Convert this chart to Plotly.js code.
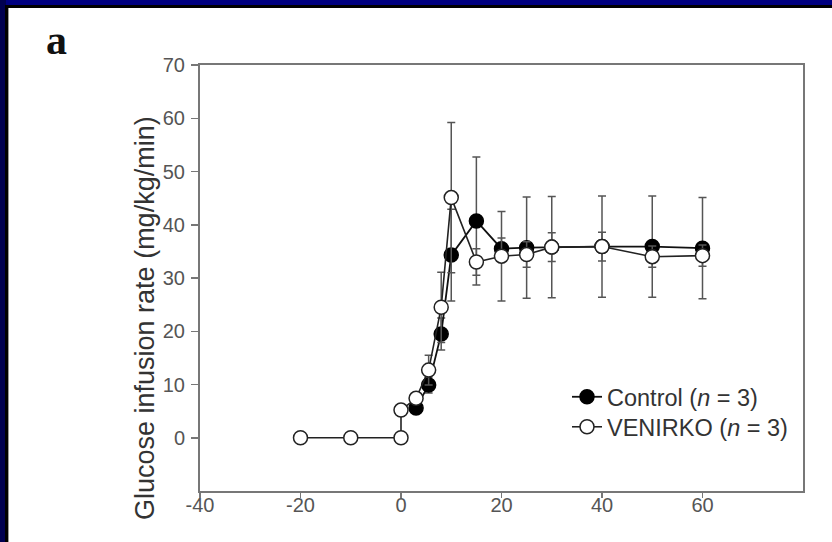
<!DOCTYPE html>
<html>
<head>
<meta charset="utf-8">
<script src="https://cdn.plot.ly/plotly-3.0.1.min.js"></script>
<style>
  html, body { margin: 0; padding: 0; background: #ffffff; }
  #wrap { position: relative; width: 832px; height: 542px; overflow: hidden; background: #ffffff; }
  #chart { position: absolute; left: 0; top: 0; width: 832px; height: 542px; }
  .strip { position: absolute; z-index: 5; }
</style>
</head>
<body>
<div id="wrap">
  <div id="chart"></div>
  <div class="strip" style="left:0;top:0;width:832px;height:5px;background:#000080;"></div>
  <div class="strip" style="left:0;top:0;width:6px;height:542px;background:#000050;"></div>
  <div class="strip" style="left:5px;top:5px;width:827px;height:3px;background:#000000;"></div>
  <div class="strip" style="left:5px;top:5px;width:3px;height:537px;background:#000000;"></div>
  <div class="strip" style="left:8px;top:8px;width:1px;height:534px;background:#9a9a9a;"></div>
</div>
<script>
// Time (min) and glucose infusion rate (mg/kg/min), mean and SEM
const timeControl = [3, 5.5, 8, 10, 15, 20, 25, 30, 40, 50, 60];
const girControl  = [5.6, 9.9, 19.5, 34.3, 40.7, 35.5, 35.7, 35.8, 35.9, 35.9, 35.6];
const semControl  = [1, 1.5, 3, 8.6, 12, 2, 9.5, 9.5, 9.5, 9.5, 9.5];

const timeVenirko = [-20, -10, 0, 0, 3, 5.5, 8, 10, 15, 20, 25, 30, 40, 50, 60];
const girVenirko  = [0, 0, 0, 5.2, 7.4, 12.7, 24.5, 45.1, 33.0, 34.1, 34.4, 35.8, 35.9, 34.0, 34.2];
const semVenirko  = [0, 0, 0, 1, 1, 2.8, 6.6, 14.1, 2.5, 8.4, 2.4, 2.7, 2.7, 2, 2];

const xTicks = [-40, -20, 0, 20, 40, 60];
const yTicks = [0, 10, 20, 30, 40, 50, 60, 70];

const seriesNames = ['Control (<i>n</i> = 3)', 'VENIRKO (<i>n</i> = 3)'];
const panelLabel = 'a';
const yTitle = 'Glucose infusion rate (mg/kg/min)';

const errStyle = { type: 'data', visible: true, color: '#555555', thickness: 1.5, width: 4 };

const traces = [
  {
    x: timeControl, y: girControl, name: seriesNames[0], legend: 'legend',
    type: 'scatter', mode: 'lines+markers',
    line: { color: '#111111', width: 1.8 },
    marker: { symbol: 'circle', size: 14, color: '#000000', line: { color: '#000000', width: 1.5 } },
    error_y: Object.assign({ array: semControl }, errStyle)
  },
  {
    x: timeVenirko, y: girVenirko, name: seriesNames[1], legend: 'legend2',
    type: 'scatter', mode: 'lines+markers',
    line: { color: '#222222', width: 1.6 },
    marker: { symbol: 'circle', size: 14, color: '#ffffff', line: { color: '#222222', width: 1.5 } },
    error_y: Object.assign({ array: semVenirko }, errStyle)
  }
];

const W = 832, H = 542;
const mL = 200, mR = 29, mT = 65, mB = 51;
const pw = W - mL - mR, ph = H - mT - mB;
const px = p => (p - mL) / pw;
const py = p => (H - mB - p) / ph;

const legendFont = { family: 'Liberation Sans, Arial, sans-serif', size: 23.5, color: '#333333' };

const layout = {
  width: W, height: H,
  margin: { l: mL, r: mR, t: mT, b: mB, pad: 0 },
  paper_bgcolor: 'rgba(0,0,0,0)',
  plot_bgcolor: '#ffffff',
  showlegend: true,
  legend: {
    x: px(567), xanchor: 'left', y: py(375), yanchor: 'top',
    bgcolor: 'rgba(0,0,0,0)', borderwidth: 0, font: legendFont, itemwidth: 30
  },
  legend2: {
    x: px(567), xanchor: 'left', y: py(405), yanchor: 'top',
    bgcolor: 'rgba(0,0,0,0)', borderwidth: 0, font: legendFont, itemwidth: 30
  },
  xaxis: {
    range: [-40, 80], tickvals: xTicks, ticktext: xTicks.map(String),
    showgrid: false, zeroline: false,
    showline: true, linecolor: '#777777', linewidth: 2, mirror: true,
    ticks: 'outside', ticklen: 5, tickwidth: 1.5, tickcolor: '#777777',
    ticklabelstandoff: -10,
    tickfont: { family: 'Liberation Sans, Arial, sans-serif', size: 20, color: '#555555' }
  },
  yaxis: {
    range: [-10, 70], tickvals: yTicks, ticktext: yTicks.map(String),
    showgrid: false, zeroline: false,
    showline: true, linecolor: '#777777', linewidth: 2, mirror: true,
    ticks: 'outside', ticklen: 7, tickwidth: 1.5, tickcolor: '#777777',
    ticklabelstandoff: 2,
    tickfont: { family: 'Liberation Sans, Arial, sans-serif', size: 20, color: '#555555' }
  },
  annotations: [
    {
      text: yTitle, xref: 'paper', yref: 'paper', x: px(145), y: py(318),
      xanchor: 'center', yanchor: 'middle', textangle: -90, showarrow: false,
      font: { family: 'Liberation Sans, Arial, sans-serif', size: 27, color: '#333333' }
    },
    {
      text: '<b>' + panelLabel + '</b>', xref: 'paper', yref: 'paper', x: px(56), y: py(40),
      xanchor: 'center', yanchor: 'middle', showarrow: false,
      font: { family: 'Liberation Serif, Times New Roman, serif', size: 42, color: '#111111' }
    }
  ]
};

Plotly.newPlot('chart', traces, layout, { displayModeBar: false, staticPlot: true });
</script>
</body>
</html>
